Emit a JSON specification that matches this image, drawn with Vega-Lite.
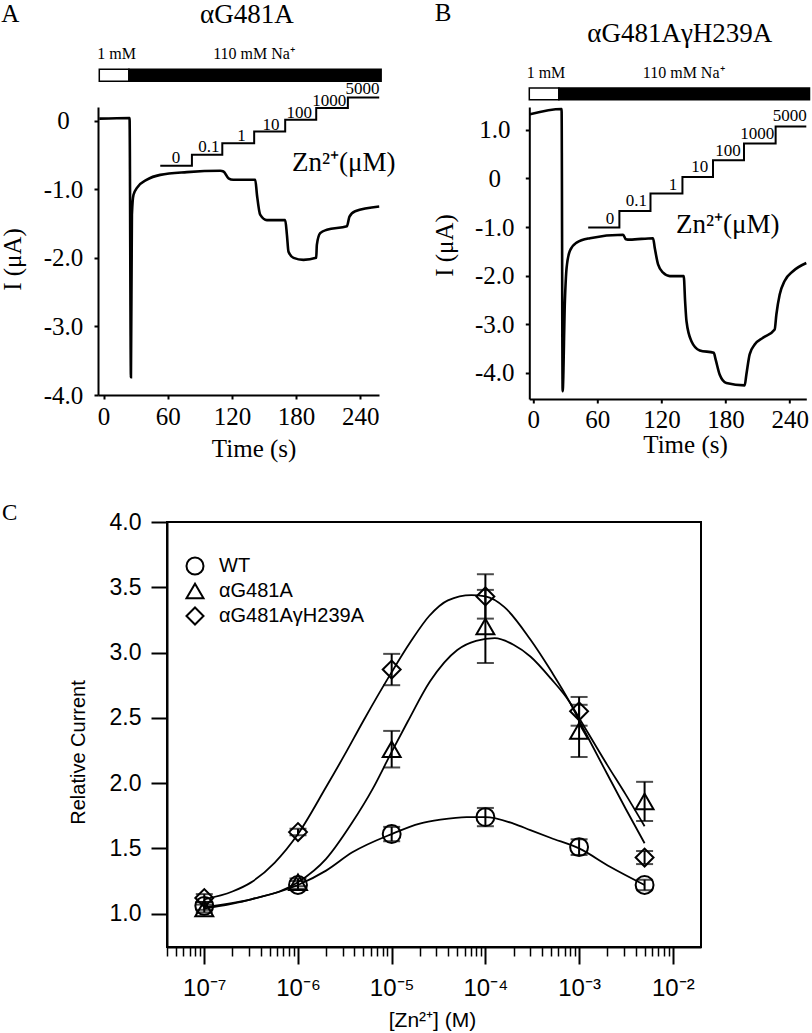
{
  "$schema": "https://vega.github.io/schema/vega-lite/v6.json",
  "autosize": {"type": "pad"},
  "padding": {"left": 0, "top": 0, "right": 0, "bottom": 0},
  "background": "white",
  "config": {
    "view": {"stroke": null},
    "axis": {"grid": false, "domainColor": "black", "tickColor": "black", "labelColor": "black", "titleColor": "black", "titleFontWeight": "normal", "labelFlush": false, "labelOverlap": false},
    "text": {"color": "black"}
  },
  "datasets": {
    "traceA": [
      {"t": -4.0, "v": 0.03}, {"t": 24.3, "v": 0.04}, {"t": 25.6, "v": -3.74}, {"t": 26.5, "v": -1.37},
      {"t": 28.0, "v": -1.08}, {"t": 31.2, "v": -0.98}, {"t": 40.6, "v": -0.86}, {"t": 53.0, "v": -0.79},
      {"t": 77.9, "v": -0.75}, {"t": 109.1, "v": -0.73}, {"t": 112.1, "v": -0.74}, {"t": 116.8, "v": -0.84},
      {"t": 121.2, "v": -0.86}, {"t": 141.8, "v": -0.86}, {"t": 143.4, "v": -1.08}, {"t": 146.4, "v": -1.37},
      {"t": 152.7, "v": -1.45}, {"t": 169.8, "v": -1.45}, {"t": 171.4, "v": -1.66}, {"t": 172.9, "v": -1.91},
      {"t": 177.6, "v": -2.0}, {"t": 186.9, "v": -2.03}, {"t": 198.8, "v": -2.0}, {"t": 199.4, "v": -1.81},
      {"t": 202.5, "v": -1.64}, {"t": 208.8, "v": -1.59}, {"t": 227.5, "v": -1.54}, {"t": 229.9, "v": -1.40},
      {"t": 235.2, "v": -1.32}, {"t": 257.7, "v": -1.25}
    ],
    "stepA": [
      {"t": 53, "v": -0.657}, {"t": 82.6, "v": -0.496}, {"t": 111, "v": -0.327}, {"t": 140.8, "v": -0.156},
      {"t": 169.8, "v": 0.015}, {"t": 198.8, "v": 0.184}, {"t": 228.4, "v": 0.34}, {"t": 257.7, "v": 0.34}
    ],
    "stepLabA": [
      {"t": 67.7, "v": -0.546, "label": "0"}, {"t": 98.5, "v": -0.385, "label": "0.1"},
      {"t": 129, "v": -0.229, "label": "1"}, {"t": 156.5, "v": -0.058, "label": "10"},
      {"t": 182.9, "v": 0.111, "label": "100"}, {"t": 211, "v": 0.292, "label": "1000"},
      {"t": 242, "v": 0.467, "label": "5000"}
    ],
    "barA": [
      {"sol": "1 mM", "t": -4, "t1": 23.7, "v": 0.574, "v1": 0.749},
      {"sol": "110 mM", "t": 23.7, "t1": 259.5, "v": 0.574, "v1": 0.749}
    ],
    "traceB": [
      {"t": -3.1, "v": 1.32}, {"t": 26.5, "v": 1.43}, {"t": 27.5, "v": -4.38}, {"t": 29.6, "v": -2.53},
      {"t": 31.2, "v": -1.84}, {"t": 34.3, "v": -1.49}, {"t": 40.6, "v": -1.32}, {"t": 53.0, "v": -1.23},
      {"t": 84.1, "v": -1.16}, {"t": 86.6, "v": -1.25}, {"t": 90.4, "v": -1.26}, {"t": 112.1, "v": -1.23},
      {"t": 113.7, "v": -1.43}, {"t": 116.8, "v": -1.77}, {"t": 121.5, "v": -1.94}, {"t": 127.8, "v": -2.01},
      {"t": 140.8, "v": -2.01}, {"t": 142.1, "v": -2.53}, {"t": 143.4, "v": -2.94}, {"t": 148.0, "v": -3.35},
      {"t": 155.8, "v": -3.54}, {"t": 168.9, "v": -3.59}, {"t": 170.7, "v": -3.73}, {"t": 174.5, "v": -4.04},
      {"t": 180.7, "v": -4.21}, {"t": 197.8, "v": -4.26}, {"t": 199.4, "v": -4.04}, {"t": 202.5, "v": -3.62},
      {"t": 207.2, "v": -3.42}, {"t": 215.0, "v": -3.28}, {"t": 225.9, "v": -3.11}, {"t": 227.5, "v": -2.80},
      {"t": 230.6, "v": -2.39}, {"t": 235.2, "v": -2.11}, {"t": 243.0, "v": -1.91}, {"t": 255.5, "v": -1.74}
    ],
    "stepB": [
      {"t": 51.4, "v": -1.01}, {"t": 80.6, "v": -0.67}, {"t": 109.7, "v": -0.31}, {"t": 139.6, "v": 0.03},
      {"t": 168.2, "v": 0.375}, {"t": 197.2, "v": 0.72}, {"t": 226.8, "v": 1.07}, {"t": 255.5, "v": 1.07}
    ],
    "stepLabB": [
      {"t": 71.7, "v": -0.84, "label": "0"}, {"t": 96.6, "v": -0.46, "label": "0.1"},
      {"t": 130.8, "v": -0.14, "label": "1"}, {"t": 155.8, "v": 0.24, "label": "10"},
      {"t": 182.2, "v": 0.57, "label": "100"}, {"t": 209.7, "v": 0.92, "label": "1000"},
      {"t": 240, "v": 1.29, "label": "5000"}
    ],
    "barB": [
      {"sol": "1 mM", "t": -3.7, "t1": 24, "v": 1.62, "v1": 1.86},
      {"sol": "110 mM", "t": 24, "t1": 258.5, "v": 1.62, "v1": 1.86}
    ],
    "curves": [
      {"conc": 1e-7, "rc": 1.05, "group": "WT"}, {"conc": 3.162e-7, "rc": 1.11, "group": "WT"},
      {"conc": 1e-6, "rc": 1.22, "group": "WT"}, {"conc": 1.995e-6, "rc": 1.33, "group": "WT"},
      {"conc": 3.802e-6, "rc": 1.47, "group": "WT"}, {"conc": 1e-5, "rc": 1.61, "group": "WT"},
      {"conc": 1.995e-5, "rc": 1.69, "group": "WT"}, {"conc": 3.311e-5, "rc": 1.72, "group": "WT"},
      {"conc": 6.31e-5, "rc": 1.74, "group": "WT"}, {"conc": 1e-4, "rc": 1.74, "group": "WT"},
      {"conc": 1.995e-4, "rc": 1.69, "group": "WT"}, {"conc": 3.02e-4, "rc": 1.64, "group": "WT"},
      {"conc": 5.012e-4, "rc": 1.58, "group": "WT"}, {"conc": 1e-3, "rc": 1.50, "group": "WT"},
      {"conc": 2.138e-3, "rc": 1.36, "group": "WT"}, {"conc": 5e-3, "rc": 1.22, "group": "WT"},
      {"conc": 1e-7, "rc": 1.04, "group": "αG481A"}, {"conc": 3.162e-7, "rc": 1.11, "group": "αG481A"},
      {"conc": 1e-6, "rc": 1.24, "group": "αG481A"}, {"conc": 1.995e-6, "rc": 1.42, "group": "αG481A"},
      {"conc": 3.802e-6, "rc": 1.70, "group": "αG481A"}, {"conc": 6.31e-6, "rc": 1.96, "group": "αG481A"},
      {"conc": 1e-5, "rc": 2.24, "group": "αG481A"}, {"conc": 1.479e-5, "rc": 2.47, "group": "αG481A"},
      {"conc": 2.57e-5, "rc": 2.78, "group": "αG481A"}, {"conc": 5.012e-5, "rc": 3.02, "group": "αG481A"},
      {"conc": 7.943e-5, "rc": 3.09, "group": "αG481A"}, {"conc": 1.259e-4, "rc": 3.11, "group": "αG481A"},
      {"conc": 1.995e-4, "rc": 3.06, "group": "αG481A"}, {"conc": 3.02e-4, "rc": 2.97, "group": "αG481A"},
      {"conc": 5.012e-4, "rc": 2.80, "group": "αG481A"}, {"conc": 7.943e-4, "rc": 2.62, "group": "αG481A"},
      {"conc": 1e-3, "rc": 2.50, "group": "αG481A"}, {"conc": 1.995e-3, "rc": 2.14, "group": "αG481A"},
      {"conc": 3.162e-3, "rc": 1.91, "group": "αG481A"}, {"conc": 5e-3, "rc": 1.67, "group": "αG481A"},
      {"conc": 1e-7, "rc": 1.11, "group": "αG481AγH239A"}, {"conc": 1.995e-7, "rc": 1.17, "group": "αG481AγH239A"},
      {"conc": 3.162e-7, "rc": 1.24, "group": "αG481AγH239A"}, {"conc": 5.623e-7, "rc": 1.39, "group": "αG481AγH239A"},
      {"conc": 1e-6, "rc": 1.61, "group": "αG481AγH239A"}, {"conc": 1.995e-6, "rc": 1.97, "group": "αG481AγH239A"},
      {"conc": 3.162e-6, "rc": 2.22, "group": "αG481AγH239A"}, {"conc": 5.012e-6, "rc": 2.48, "group": "αG481AγH239A"},
      {"conc": 1e-5, "rc": 2.85, "group": "αG481AγH239A"}, {"conc": 1.585e-5, "rc": 3.08, "group": "αG481AγH239A"},
      {"conc": 2.512e-5, "rc": 3.28, "group": "αG481AγH239A"}, {"conc": 3.981e-5, "rc": 3.40, "group": "αG481AγH239A"},
      {"conc": 7.079e-5, "rc": 3.44, "group": "αG481AγH239A"}, {"conc": 1e-4, "rc": 3.43, "group": "αG481AγH239A"},
      {"conc": 1.585e-4, "rc": 3.35, "group": "αG481AγH239A"}, {"conc": 3.02e-4, "rc": 3.10, "group": "αG481AγH239A"},
      {"conc": 5.012e-4, "rc": 2.86, "group": "αG481AγH239A"}, {"conc": 7.943e-4, "rc": 2.62, "group": "αG481AγH239A"},
      {"conc": 1e-3, "rc": 2.48, "group": "αG481AγH239A"}, {"conc": 1.995e-3, "rc": 2.07, "group": "αG481AγH239A"},
      {"conc": 3.162e-3, "rc": 1.80, "group": "αG481AγH239A"}, {"conc": 5e-3, "rc": 1.54, "group": "αG481AγH239A"}
    ],
    "points": [
      {"conc": 1e-7, "group": "WT", "rc": 1.06, "lo": 1.03, "hi": 1.09},
      {"conc": 1e-6, "group": "WT", "rc": 1.22, "lo": 1.19, "hi": 1.25},
      {"conc": 1e-5, "group": "WT", "rc": 1.61, "lo": 1.555, "hi": 1.665},
      {"conc": 1e-4, "group": "WT", "rc": 1.74, "lo": 1.67, "hi": 1.81},
      {"conc": 1e-3, "group": "WT", "rc": 1.51, "lo": 1.45, "hi": 1.57},
      {"conc": 5e-3, "group": "WT", "rc": 1.22, "lo": 1.18, "hi": 1.26},
      {"conc": 1e-7, "group": "αG481A", "rc": 1.04, "lo": 1.01, "hi": 1.07},
      {"conc": 1e-6, "group": "αG481A", "rc": 1.24, "lo": 1.21, "hi": 1.27},
      {"conc": 1e-5, "group": "αG481A", "rc": 2.26, "lo": 2.12, "hi": 2.40},
      {"conc": 1e-4, "group": "αG481A", "rc": 3.20, "lo": 2.92, "hi": 3.48},
      {"conc": 1e-3, "group": "αG481A", "rc": 2.40, "lo": 2.20, "hi": 2.60},
      {"conc": 5e-3, "group": "αG481A", "rc": 1.86, "lo": 1.71, "hi": 2.01},
      {"conc": 1e-7, "group": "αG481AγH239A", "rc": 1.12, "lo": 1.09, "hi": 1.15},
      {"conc": 1e-6, "group": "αG481AγH239A", "rc": 1.625, "lo": 1.60, "hi": 1.65},
      {"conc": 1e-5, "group": "αG481AγH239A", "rc": 2.87, "lo": 2.75, "hi": 2.99},
      {"conc": 1e-4, "group": "αG481AγH239A", "rc": 3.43, "lo": 3.26, "hi": 3.60},
      {"conc": 1e-3, "group": "αG481AγH239A", "rc": 2.55, "lo": 2.44, "hi": 2.66},
      {"conc": 5e-3, "group": "αG481AγH239A", "rc": 1.43, "lo": 1.38, "hi": 1.48}
    ]
  },
  "resolve": {"scale": {"shape": "independent", "fill": "independent"}, "legend": {"shape": "independent", "fill": "independent"}},
  "spacing": 39,
  "vconcat": [
    {
      "bounds": "flush",
      "spacing": 150.3,
      "hconcat": [
        {
          "width": 281,
          "height": 288,
          "encoding": {
            "x": {"field": "t", "type": "quantitative", "scale": {"domain": [-5.2, 257.5], "nice": false, "zero": false}},
            "y": {"field": "v", "type": "quantitative", "scale": {"domain": [-4.0, 0.2], "nice": false, "zero": false}}
          },
          "layer": [
            {
              "data": {"name": "barA"},
              "mark": {"type": "rect", "stroke": "black", "strokeWidth": 1.5},
              "encoding": {
                "x2": {"field": "t1"},
                "y2": {"field": "v1"},
                "fill": {"field": "sol", "type": "nominal", "scale": {"domain": ["1 mM", "110 mM"], "range": ["white", "black"]}, "legend": null}
              }
            },
            {
              "data": {"name": "traceA"},
              "mark": {"type": "line", "color": "black", "strokeWidth": 2.6, "interpolate": "monotone"},
              "encoding": {
                "x": {"field": "t", "type": "quantitative", "scale": {"domain": [-5.2, 257.5], "nice": false, "zero": false},
                  "axis": {"values": [0, 60, 120, 180, 240], "title": "Time (s)", "titleX": 155.6, "titleY": 53, "titleBaseline": "middle", "titleAlign": "center", "titleFont": "Liberation Serif", "titleFontSize": 25, "labelFont": "Liberation Serif", "labelFontSize": 25, "labelPadding": 5, "tickSize": 4, "tickWidth": 2, "domainWidth": 2}},
                "y": {"field": "v", "type": "quantitative", "scale": {"domain": [-4.0, 0.2], "nice": false, "zero": false},
                  "axis": {"values": [0, -1, -2, -3, -4], "labelExpr": "datum.value == 0 ? '0' : '-' + format(abs(datum.value), '.1f')", "labelAlign": "center", "labelPadding": 31, "title": "I (μA)", "titleX": -86, "titleY": 152, "titleAngle": 270, "titleBaseline": "middle", "titleAlign": "center", "titleFont": "Liberation Serif", "titleFontSize": 25, "labelFont": "Liberation Serif", "labelFontSize": 25, "tickSize": 4, "tickWidth": 2, "domainWidth": 2}}
              }
            },
            {
              "data": {"name": "stepA"},
              "mark": {"type": "line", "color": "black", "strokeWidth": 2, "interpolate": "step-after"},
              "encoding": {}
            },
            {
              "data": {"name": "stepLabA"},
              "mark": {"type": "text", "font": "Liberation Serif", "fontSize": 17, "align": "center", "baseline": "middle"},
              "encoding": {"text": {"field": "label"}}
            },
            {
              "data": {"values": [{"t": -87.2, "v": 1.56, "label": "A"}]},
              "mark": {"type": "text", "font": "Liberation Serif", "fontSize": 25, "align": "center", "baseline": "middle"},
              "encoding": {"text": {"field": "label"}}
            },
            {
              "data": {"values": [{"t": 134, "v": 1.547, "label": "αG481A"}, {"t": 224.5, "v": -0.619, "label": "Zn²⁺(μM)"}]},
              "mark": {"type": "text", "font": "Liberation Serif", "fontSize": 27, "align": "center", "baseline": "middle"},
              "encoding": {"text": {"field": "label"}}
            },
            {
              "data": {"values": [{"t": -5.9, "v": 0.968, "label": "1 mM"}, {"t": 102.5, "v": 0.968, "label": "110 mM Na⁺"}]},
              "mark": {"type": "text", "font": "Liberation Serif", "fontSize": 16, "align": "left", "baseline": "middle"},
              "encoding": {"text": {"field": "label"}}
            }
          ]
        },
        {
          "width": 277,
          "height": 292,
          "encoding": {
            "x": {"field": "t", "type": "quantitative", "scale": {"domain": [-3.7, 255.5], "nice": false, "zero": false}},
            "y": {"field": "v", "type": "quantitative", "scale": {"domain": [-4.54, 1.47], "nice": false, "zero": false}}
          },
          "layer": [
            {
              "data": {"name": "barB"},
              "mark": {"type": "rect", "stroke": "black", "strokeWidth": 1.5},
              "encoding": {
                "x2": {"field": "t1"},
                "y2": {"field": "v1"},
                "fill": {"field": "sol", "type": "nominal", "scale": {"domain": ["1 mM", "110 mM"], "range": ["white", "black"]}, "legend": null}
              }
            },
            {
              "data": {"name": "traceB"},
              "mark": {"type": "line", "color": "black", "strokeWidth": 2.6, "interpolate": "monotone"},
              "encoding": {
                "x": {"field": "t", "type": "quantitative", "scale": {"domain": [-3.7, 255.5], "nice": false, "zero": false},
                  "axis": {"values": [0, 60, 120, 180, 240], "title": "Time (s)", "titleX": 155.7, "titleY": 45, "titleBaseline": "middle", "titleAlign": "center", "titleFont": "Liberation Serif", "titleFontSize": 25, "labelFont": "Liberation Serif", "labelFontSize": 25, "labelPadding": 4, "tickSize": 4, "tickWidth": 2, "domainWidth": 2}},
                "y": {"field": "v", "type": "quantitative", "scale": {"domain": [-4.54, 1.47], "nice": false, "zero": false},
                  "axis": {"values": [1, 0, -1, -2, -3, -4], "labelExpr": "datum.value == 0 ? '0' : (datum.value < 0 ? '-' + format(abs(datum.value), '.1f') : format(datum.value, '.1f'))", "labelAlign": "center", "labelPadding": 31, "title": "I (μA)", "titleX": -85, "titleY": 138, "titleAngle": 270, "titleBaseline": "middle", "titleAlign": "center", "titleFont": "Liberation Serif", "titleFontSize": 25, "labelFont": "Liberation Serif", "labelFontSize": 25, "tickSize": 4, "tickWidth": 2, "domainWidth": 2}}
              }
            },
            {
              "data": {"name": "stepB"},
              "mark": {"type": "line", "color": "black", "strokeWidth": 2, "interpolate": "step-after"},
              "encoding": {}
            },
            {
              "data": {"name": "stepLabB"},
              "mark": {"type": "text", "font": "Liberation Serif", "fontSize": 17, "align": "center", "baseline": "middle"},
              "encoding": {"text": {"field": "label"}}
            },
            {
              "data": {"values": [{"t": -84.4, "v": 3.40, "label": "B"}]},
              "mark": {"type": "text", "font": "Liberation Serif", "fontSize": 25, "align": "center", "baseline": "middle"},
              "encoding": {"text": {"field": "label"}}
            },
            {
              "data": {"values": [{"t": 137.1, "v": 2.97, "label": "αG481AγH239A"}, {"t": 182, "v": -0.96, "label": "Zn²⁺(μM)"}]},
              "mark": {"type": "text", "font": "Liberation Serif", "fontSize": 27, "align": "center", "baseline": "middle"},
              "encoding": {"text": {"field": "label"}}
            },
            {
              "data": {"values": [{"t": -6.2, "v": 2.18, "label": "1 mM"}, {"t": 102.5, "v": 2.18, "label": "110 mM Na⁺"}]},
              "mark": {"type": "text", "font": "Liberation Serif", "fontSize": 16, "align": "left", "baseline": "middle"},
              "encoding": {"text": {"field": "label"}}
            }
          ]
        }
      ]
    },
    {
      "bounds": "flush",
      "spacing": 0,
      "hconcat": [
        {
          "width": 69,
          "height": 10,
          "data": {"values": [{"k": 1}]},
          "mark": {"type": "text"},
          "encoding": {"text": {"value": ""}}
        },
        {
          "width": 534,
          "height": 425,
          "view": {"stroke": "black", "strokeWidth": 2},
          "resolve": {"axis": {"x": "independent"}},
          "layer": [
            {
              "data": {"name": "curves"},
              "mark": {"type": "line", "color": "black", "strokeWidth": 1.8, "interpolate": "monotone"},
              "encoding": {
                "x": {"field": "conc", "type": "quantitative", "scale": {"type": "log", "domain": [4e-8, 0.02], "nice": false},
                  "axis": {"orient": "bottom", "values": [1e-7, 1e-6, 1e-5, 1e-4, 1e-3, 1e-2], "labelExpr": "'10' + (round(log(datum.value)/LN10) == -7 ? '⁻⁷' : round(log(datum.value)/LN10) == -6 ? '⁻⁶' : round(log(datum.value)/LN10) == -5 ? '⁻⁵' : round(log(datum.value)/LN10) == -4 ? '⁻⁴' : round(log(datum.value)/LN10) == -3 ? '⁻³' : '⁻²')", "labelFont": "Liberation Sans", "labelFontSize": 24, "labelPadding": 12, "tickSize": 17, "tickWidth": 2, "domainWidth": 2, "title": "[Zn²⁺] (M)", "titleFont": "Liberation Sans", "titleFontSize": 21, "titleX": 265, "titleY": 73, "titleBaseline": "middle", "titleAlign": "center"}},
                "y": {"field": "rc", "type": "quantitative", "scale": {"domain": [0.745, 4.0], "nice": false, "zero": false},
                  "axis": {"values": [1, 1.5, 2, 2.5, 3, 3.5, 4], "format": ".1f", "labelFont": "Liberation Sans", "labelFontSize": 23, "labelPadding": 10, "tickSize": 16, "tickWidth": 2, "domainWidth": 2, "title": "Relative Current", "titleFont": "Liberation Sans", "titleFontSize": 20, "titleX": -89, "titleY": 230, "titleAngle": 270, "titleBaseline": "middle", "titleAlign": "center"}},
                "detail": {"field": "group", "type": "nominal"}
              }
            },
            {
              "data": {"name": "points"},
              "mark": {"type": "rule", "color": "black", "strokeWidth": 2},
              "encoding": {
                "x": {"field": "conc", "type": "quantitative", "scale": {"type": "log", "domain": [4e-8, 0.02], "nice": false},
                  "axis": {"orient": "bottom", "values": [4e-8, 5e-8, 6e-8, 7e-8, 8e-8, 9e-8, 2e-7, 3e-7, 4e-7, 5e-7, 6e-7, 7e-7, 8e-7, 9e-7, 2e-6, 3e-6, 4e-6, 5e-6, 6e-6, 7e-6, 8e-6, 9e-6, 2e-5, 3e-5, 4e-5, 5e-5, 6e-5, 7e-5, 8e-5, 9e-5, 2e-4, 3e-4, 4e-4, 5e-4, 6e-4, 7e-4, 8e-4, 9e-4, 2e-3, 3e-3, 4e-3, 5e-3, 6e-3, 7e-3, 8e-3, 9e-3], "labels": false, "domain": false, "tickSize": 9, "tickWidth": 1.5, "title": null}},
                "y": {"field": "lo", "type": "quantitative", "scale": {"domain": [0.745, 4.0], "nice": false, "zero": false}},
                "y2": {"field": "hi"}
              }
            },
            {
              "data": {"name": "points"},
              "mark": {"type": "tick", "color": "black", "orient": "horizontal", "size": 17, "thickness": 2},
              "encoding": {
                "x": {"field": "conc", "type": "quantitative", "scale": {"type": "log", "domain": [4e-8, 0.02], "nice": false}, "axis": null},
                "y": {"field": "lo", "type": "quantitative", "scale": {"domain": [0.745, 4.0], "nice": false, "zero": false}}
              }
            },
            {
              "data": {"name": "points"},
              "mark": {"type": "tick", "color": "black", "orient": "horizontal", "size": 17, "thickness": 2},
              "encoding": {
                "x": {"field": "conc", "type": "quantitative", "scale": {"type": "log", "domain": [4e-8, 0.02], "nice": false}, "axis": null},
                "y": {"field": "hi", "type": "quantitative", "scale": {"domain": [0.745, 4.0], "nice": false, "zero": false}}
              }
            },
            {
              "data": {"name": "points"},
              "mark": {"type": "point", "filled": false, "color": "black", "strokeWidth": 2, "opacity": 1, "size": 320},
              "encoding": {
                "x": {"field": "conc", "type": "quantitative", "scale": {"type": "log", "domain": [4e-8, 0.02], "nice": false}, "axis": null},
                "y": {"field": "rc", "type": "quantitative", "scale": {"domain": [0.745, 4.0], "nice": false, "zero": false}},
                "shape": {"field": "group", "type": "nominal", "scale": {"domain": ["WT", "αG481A", "αG481AγH239A"], "range": ["circle", "triangle-up", "diamond"]},
                  "legend": {"orient": "none", "legendX": 87, "legendY": 34, "title": null, "padding": 0, "labelFont": "Liberation Sans", "labelFontSize": 20, "labelColor": "black", "labelOffset": 14, "rowPadding": 0, "symbolSize": 290, "symbolStrokeColor": "black", "symbolStrokeWidth": 2, "symbolFillColor": "transparent"}}
              }
            },
            {
              "data": {"values": [{"conc": 8.4e-10, "rc": 4.07, "label": "C"}]},
              "mark": {"type": "text", "font": "Liberation Serif", "fontSize": 23, "align": "center", "baseline": "middle"},
              "encoding": {
                "x": {"field": "conc", "type": "quantitative", "scale": {"type": "log", "domain": [4e-8, 0.02], "nice": false}, "axis": null},
                "y": {"field": "rc", "type": "quantitative", "scale": {"domain": [0.745, 4.0], "nice": false, "zero": false}},
                "text": {"field": "label"}
              }
            }
          ]
        }
      ]
    }
  ]
}
